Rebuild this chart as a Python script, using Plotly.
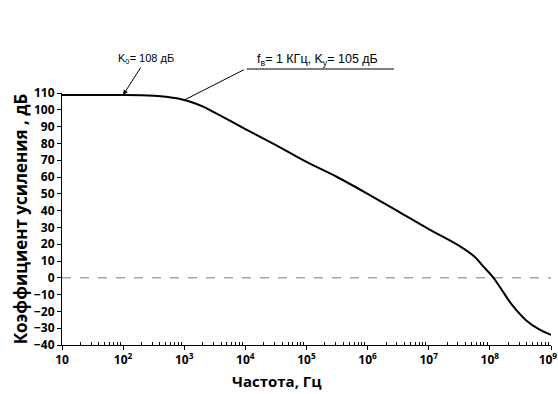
import plotly.graph_objects as go
import numpy as np

# Data (log10 of frequency in Hz, gain in dB)
log_freq = [1.0, 2.0, 2.3, 2.5, 2.7, 2.9, 3.1, 3.3, 3.5, 4.0, 4.5, 5.0, 5.5, 6.0, 6.5,
            7.0, 7.5, 7.75, 7.9, 8.06, 8.2, 8.35, 8.6, 8.8, 9.0]
gain_db = [108.8, 108.8, 108.7, 108.4, 107.8, 106.7, 104.8, 102, 98.3, 88.5, 79, 69, 60, 50, 39.5,
           29, 19, 12.5, 6.5, 0, -7.5, -15.5, -25.5, -30.5, -34]
freq = [10 ** v for v in log_freq]

x_tickvals = [1e1, 1e2, 1e3, 1e4, 1e5, 1e6, 1e7, 1e8, 1e9]
x_ticktext = ["10", "10<sup>2</sup>", "10<sup>3</sup>", "10<sup>4</sup>", "10<sup>5</sup>",
              "10<sup>6</sup>", "10<sup>7</sup>", "10<sup>8</sup>", "10<sup>9</sup>\u00a0\u00a0"]
x_minor_vals = [m * 10 ** d for d in range(1, 9) for m in range(2, 10)]
y_tickvals = list(range(-40, 111, 10))

k0_point = (100, 108.8)
fb_point = (1000, 105.8)

FONT = "Open Sans"

fig = go.Figure()
fig.add_trace(go.Scatter(x=freq, y=gain_db, mode="lines",
                         line=dict(color="black", width=2, shape="spline", smoothing=0.8),
                         showlegend=False, hoverinfo="skip"))

fig.add_shape(type="line", xref="paper", yref="y", x0=0, x1=1, y0=0, y1=0,
              line=dict(color="#a6a6a6", width=1.5, dash="dash"), layer="below")

# K0 annotation
fig.add_annotation(x=np.log10(k0_point[0]), y=k0_point[1], xref="x", yref="y",
                   text="K<sub>0</sub>= 108 дБ", showarrow=True, arrowhead=2,
                   arrowsize=1, arrowwidth=1, arrowcolor="black", ax=23, ay=-36,
                   font=dict(family="Liberation Sans", size=11, color="black"))

# fв leader line
fig.add_annotation(x=np.log10(fb_point[0]), y=fb_point[1], xref="x", yref="y",
                   text=" ", showarrow=True, arrowhead=0, arrowwidth=1,
                   arrowcolor="black", ax=61, ay=-31, standoff=0, startstandoff=0,
                   font=dict(size=1))
fig.add_annotation(x=0.3777, y=1.0952, xref="paper", yref="paper",
                   text="f<sub>в</sub>= 1 КГц, K<sub>у</sub>= 105 дБ", showarrow=False,
                   xanchor="left", yanchor="bottom", xshift=8, yshift=-1,
                   font=dict(family="Liberation Sans", size=12.5, color="black"))
fig.add_shape(type="line", xref="paper", yref="paper", x0=0.3777, x1=0.679,
              y0=1.0952, y1=1.0952, line=dict(color="black", width=1))

# x axis title (centred on the page as in the reference)
fig.add_annotation(x=0.44, y=-0.143, xref="paper", yref="paper", text="Частота, Гц",
                   showarrow=False, xanchor="center", yanchor="middle",
                   font=dict(family=FONT, size=15, color="black", weight="bold"))

fig.update_xaxes(type="log", range=[1, 9], tickvals=x_tickvals, ticktext=x_ticktext,
                 ticks="outside", ticklen=4, tickcolor="black", showline=True,
                 linecolor="black", linewidth=1, showgrid=False, zeroline=False,
                 ticklabeloverflow="allow",
                 tickfont=dict(family=FONT, size=12, color="black", weight="bold"),
                 minor=dict(tickmode="array", tickvals=x_minor_vals, ticks="inside",
                            ticklen=3, tickcolor="black", showgrid=False))
fig.update_yaxes(range=[-40, 110], tickvals=y_tickvals, ticks="outside", ticklen=4,
                 tickcolor="black", showline=True, linecolor="black", linewidth=1,
                 showgrid=False, zeroline=False,
                 tickfont=dict(family=FONT, size=12, color="black", weight="bold"),
                 title=dict(text="Коэффициент усиления , дБ", standoff=2,
                            font=dict(family=FONT, size=17, color="black", weight="bold")))

fig.update_layout(width=558, height=394, plot_bgcolor="white", paper_bgcolor="white",
                  margin=dict(l=62, r=7, t=93, b=49, autoexpand=False))

fig.write_html("out.html", post_script="document.body.style.margin='0';",
               config={"displayModeBar": False})
